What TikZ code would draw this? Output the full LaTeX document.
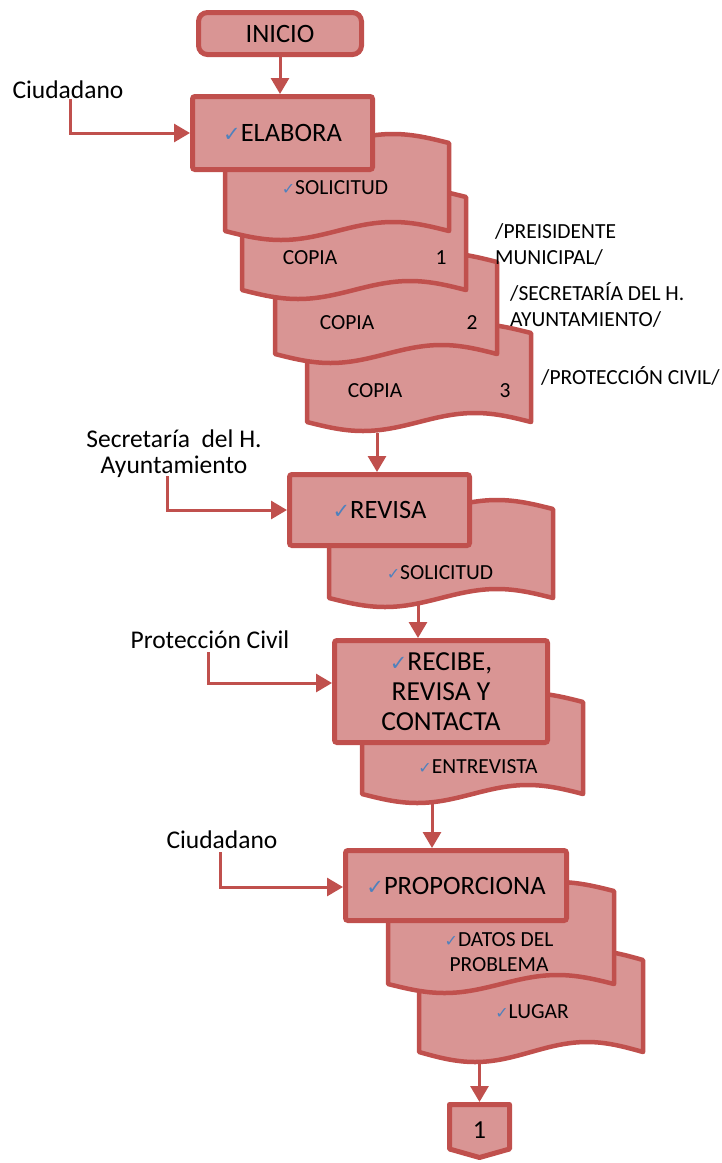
\documentclass[tikz,border=0pt]{standalone}
\usepackage{fontspec}
\setmainfont{Carlito}
\newfontfamily\chkfont{DejaVu Sans}
\usetikzlibrary{arrows.meta,calc}
\definecolor{boxfill}{HTML}{D99594}
\definecolor{boxline}{HTML}{C0504D}
\definecolor{chkblue}{HTML}{4F81BD}
% small blue tick placed before an item
\newcommand\chk[1]{{\chkfont\fontsize{#1}{#1}\selectfont\textcolor{chkblue}{✓}}}
% punched-tape document: #1 left x, #2 right x, #3 top edge y, #4 bottom edge y, #5 wave amplitude
\newcommand\tape[5]{%
  \pgfmathsetmacro\qa{#1+0.25*(#2-#1)}%
  \pgfmathsetmacro\qb{#1+0.5*(#2-#1)}%
  \pgfmathsetmacro\qc{#1+0.75*(#2-#1)}%
  \filldraw[docline] (#1,#3) sin (\qa,#3+#5) cos (\qb,#3) sin (\qc,#3-#5) cos (#2,#3)
    -- (#2,#4) sin (\qc,#4-#5) cos (\qb,#4) sin (\qa,#4+#5) cos (#1,#4) -- cycle;}
\begin{document}
\begin{tikzpicture}[x=1pt,y=-1pt,
  procbox/.style={draw=boxline,fill=boxfill,line width=5pt,rounded corners=2.5pt,
    inner sep=0pt,font=\fontsize{26.5}{30}\selectfont,align=center},
  termbox/.style={procbox,rounded corners=9pt},
  docline/.style={draw=boxline,fill=boxfill,line width=4.5pt,line join=round},
  doctext/.style={font=\fontsize{21.5}{25}\selectfont,inner sep=0pt,align=center},
  lbl/.style={font=\fontsize{25.5}{26}\selectfont,inner sep=0pt,align=center},
  side/.style={font=\fontsize{21.5}{26}\selectfont,inner sep=0pt,align=left,anchor=west},
  flow/.style={draw=boxline,line width=3pt,-{Triangle[width=18pt,length=16pt]}},
]
\useasboundingbox (0,0) rectangle (722,1163);

% documents, back to front
\tape{307}{531}{333}{422}{9}
\tape{275}{497}{262}{354}{9}
\tape{242}{466}{197}{290}{9}
\tape{225}{449}{143}{231}{9}
\tape{329}{553}{509}{598}{9}
\tape{362}{583}{702}{794}{9}
\tape{419}{643}{960}{1052}{10}
\tape{388}{614}{891}{984}{9}

% process boxes
\node[termbox,minimum width=163pt,minimum height=42pt] (inicio) at (280,33.5) {INICIO};
\node[procbox,minimum width=180pt,minimum height=73pt] (elabora) at (282.5,133) {\chk{21}ELABORA};
\node[procbox,minimum width=180pt,minimum height=71pt] (revisa) at (379.5,510) {\chk{21}REVISA};
\node[procbox,minimum width=213pt,minimum height=102pt,font=\fontsize{27.5}{30}\selectfont] (recibe) at (441,691.5) {\chk{21}RECIBE,\\REVISA Y\\CONTACTA};
\node[procbox,minimum width=221pt,minimum height=70pt] (proporciona) at (456,885.5) {\chk{21}PROPORCIONA};

% off-page connector
\filldraw[docline,line width=5pt] (449.5,1104.5) -- (509.5,1104.5) -- (509.5,1149)
  -- (479.5,1157.5) -- (449.5,1149) -- cycle;
\node[font=\fontsize{26}{30}\selectfont,inner sep=0pt] (pg1) at (479.5,1130) {1};
\coordinate (offtop) at (479.5,1102);

% document texts
\node[doctext] (t1) at (335,188) {\chk{16}SOLICITUD};
\node[doctext] (t2) at (310,258) {COPIA};
\node[doctext] (n2) at (441,258) {1};
\node[doctext] (t3) at (347,323) {COPIA};
\node[doctext] (n3) at (472,323) {2};
\node[doctext] (t4) at (375,391) {COPIA};
\node[doctext] (n4) at (505,391) {3};
\node[doctext] (t5) at (440,573) {\chk{16}SOLICITUD};
\node[doctext] (t6) at (478,767) {\chk{16}ENTREVISTA};
\node[doctext] (t7) at (499,952) {\chk{16}DATOS DEL\\PROBLEMA};
\node[doctext] (t8) at (532,1012) {\chk{16}LUGAR};

% copy recipients
\node[side] (pm) at (495,244) {/PREISIDENTE\\MUNICIPAL/};
\node[side] (sa) at (510,305) {/SECRETARÍA DEL H.\\AYUNTAMIENTO/};
\node[side] (pc) at (541,376) {/PROTECCIÓN CIVIL/};

% actors
\node[lbl] (ciud1) at (68,90) {Ciudadano};
\node[lbl] (secre) at (174,454) {Secretaría\ \ del H.\\Ayuntamiento};
\node[lbl] (proci) at (210,640) {Protección Civil};
\node[lbl] (ciud2) at (222,840) {Ciudadano};

% flow
\draw[flow] (inicio.south) -- (inicio.south |- elabora.north);
\coordinate (d4b) at (377,433);
\draw[flow] (d4b) -- (d4b |- revisa.north);
\coordinate (d5b) at (418,605);
\draw[flow] (d5b) -- (d5b |- recibe.north);
\coordinate (d6b) at (432,804);
\draw[flow] (d6b) -- (d6b |- proporciona.north);
\coordinate (d8b) at (479.5,1063);
\draw[flow] (d8b) -- (offtop);

% actor links
\coordinate (c1) at (70,99);
\draw[flow] (c1) |- (elabora.west);
\coordinate (c2) at (167,476);
\draw[flow] (c2) |- (revisa.west);
\coordinate (c3) at (208,652);
\draw[flow] (c3) |- ($(recibe.west)+(0,-8.5)$);
\coordinate (c4) at (220,852);
\draw[flow] (c4) |- ($(proporciona.west)+(0,1.5)$);
\end{tikzpicture}
\end{document}
